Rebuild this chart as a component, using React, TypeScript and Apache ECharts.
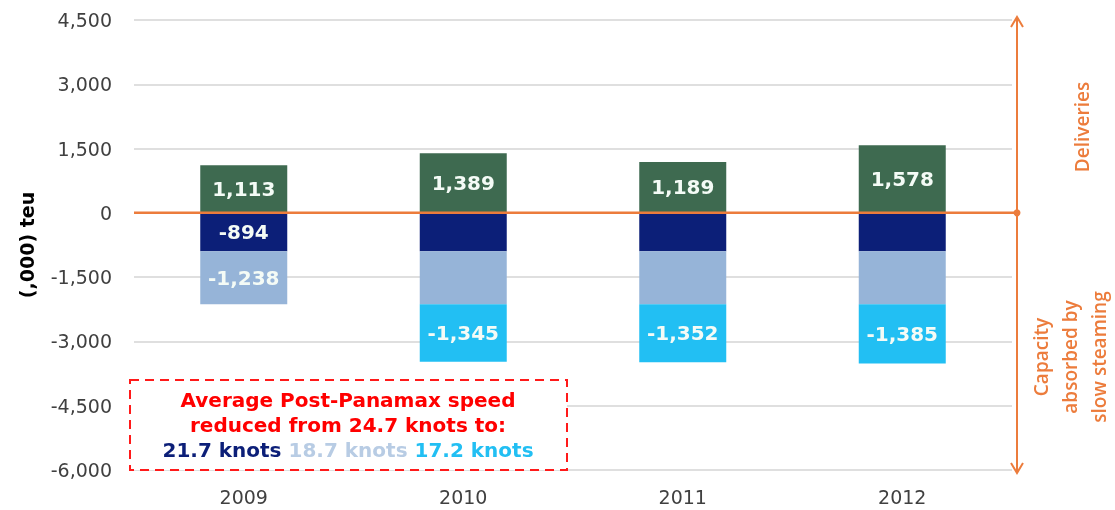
import React, { useEffect, useRef } from "react";
import * as echarts from "echarts";

const categories = ["2009", "2010", "2011", "2012"];
const deliveries = [1113, 1389, 1189, 1578];
const speed217 = [-894, -894, -894, -894];
const speed187 = [-1238, -1238, -1238, -1238];
const speed172: (number | null)[] = [null, -1345, -1352, -1385];
const show217 = [true, false, false, false];
const show187 = [true, false, false, false];
const show172 = [false, true, true, true];
const yTicks = { min: -6000, max: 4500, interval: 1500 };

const ORANGE = "#ec7c3c";
const FONT = "'DejaVu Sans', Verdana, sans-serif";

const fmt = (v: number) => v.toLocaleString("en-US");

export default function App() {
  const ref = useRef<HTMLDivElement>(null);
  useEffect(() => {
    if (!ref.current) return;
    const chart = echarts.init(ref.current, null, { renderer: "svg" });
    const label = {
      show: true,
      position: "inside",
      color: "#f4fbf6",
      fontFamily: FONT,
      fontWeight: "bold",
      fontSize: 20,
      formatter: (p: any) => fmt(p.value),
    };
    const mk = (vals: (number | null)[], shows: boolean[]) =>
      vals.map((v, i) => ({ value: v, label: { show: shows[i] } }));
    const gridLeft = 134;
    const gridRight = 103;
    chart.setOption({
      animation: false,
      grid: { left: gridLeft, right: gridRight, top: 20, bottom: 40 },
      xAxis: {
        type: "category",
        data: categories,
        axisLine: { show: false },
        axisTick: { show: false },
        axisLabel: { color: "#404040", fontFamily: FONT, fontSize: 19, margin: 17 },
      },
      yAxis: {
        type: "value",
        ...yTicks,
        name: "(,000) teu",
        nameLocation: "middle",
        nameGap: 98,
        nameTextStyle: { color: "#000", fontFamily: FONT, fontWeight: "bold", fontSize: 19 },
        axisLine: { show: false },
        axisTick: { show: false },
        splitLine: { lineStyle: { color: "#d4d4d4", width: 1.5 } },
        axisLabel: { color: "#404040", fontFamily: FONT, fontSize: 19, margin: 22, formatter: (v: number) => fmt(v) },
      },
      series: [
        { type: "bar", stack: "a", barWidth: 87, data: deliveries, itemStyle: { color: "#3e6a50" }, label },
        { type: "bar", stack: "a", data: mk(speed217, show217), itemStyle: { color: "#0c1f78" }, label },
        { type: "bar", stack: "a", data: mk(speed187, show187), itemStyle: { color: "#96b4d8" }, label },
        { type: "bar", stack: "a", data: mk(speed172, show172), itemStyle: { color: "#22bff3" }, label },
      ],
    });
    const y0 = chart.convertToPixel({ yAxisIndex: 0 }, 0) as number;
    const yTop = chart.convertToPixel({ yAxisIndex: 0 }, yTicks.max) as number;
    const yBot = chart.convertToPixel({ yAxisIndex: 0 }, yTicks.min) as number;
    const W = chart.getWidth();
    const ax = W - gridRight + 5;
    const rs = (fill: string) => ({ fill, fontFamily: FONT, fontWeight: "bold", fontSize: 20, lineHeight: 25 });
    chart.setOption({
      graphic: [
        { type: "line", shape: { x1: gridLeft, y1: y0, x2: ax, y2: y0 }, style: { stroke: ORANGE, lineWidth: 2.5 }, z: 10 },
        { type: "circle", shape: { cx: ax, cy: y0, r: 3.5 }, style: { fill: ORANGE }, z: 10 },
        { type: "line", shape: { x1: ax, y1: yTop - 3, x2: ax, y2: yBot + 3 }, style: { stroke: ORANGE, lineWidth: 2 }, z: 10 },
        { type: "polyline", shape: { points: [[ax - 6, yTop + 7], [ax, yTop - 3], [ax + 6, yTop + 7]] }, style: { stroke: ORANGE, lineWidth: 2, fill: null }, z: 10 },
        { type: "polyline", shape: { points: [[ax - 6, yBot - 7], [ax, yBot + 3], [ax + 6, yBot - 7]] }, style: { stroke: ORANGE, lineWidth: 2, fill: null }, z: 10 },
        {
          type: "text",
          x: 1082,
          y: 127,
          rotation: Math.PI / 2,
          style: { text: "Deliveries", fill: ORANGE, fontFamily: "'Open Sans'", fontWeight: 600, fontSize: 19, align: "center", verticalAlign: "middle" },
        },
        {
          type: "text",
          x: 1070,
          y: 357,
          rotation: Math.PI / 2,
          style: {
            text: "Capacity\nabsorbed by\nslow steaming",
            fill: ORANGE,
            fontFamily: "'Open Sans'",
            fontWeight: 600,
            fontSize: 19,
            lineHeight: 29,
            align: "center",
            verticalAlign: "middle",
          },
        },
        {
          type: "rect",
          shape: { x: 130, y: 380, width: 437, height: 90 },
          style: { fill: "#ffffff", stroke: "#ff1a1a", lineWidth: 2, lineDash: [9, 6] },
          z: 20,
        },
        {
          type: "text",
          x: 348,
          y: 425,
          z: 21,
          style: {
            text: "{r|Average Post-Panamax speed}\n{r|reduced from 24.7 knots to:}\n{a|21.7 knots }{b|18.7 knots }{c|17.2 knots}",
            align: "center",
            verticalAlign: "middle",
            rich: { r: rs("#ff0000"), a: rs("#0c1f78"), b: rs("#b8cce4"), c: rs("#22bff3") },
          },
        },
      ],
    });
    return () => chart.dispose();
  }, []);
  return <div ref={ref} style={{ position: "fixed", left: 0, top: 0, width: 1115, height: 510 }} />;
}
